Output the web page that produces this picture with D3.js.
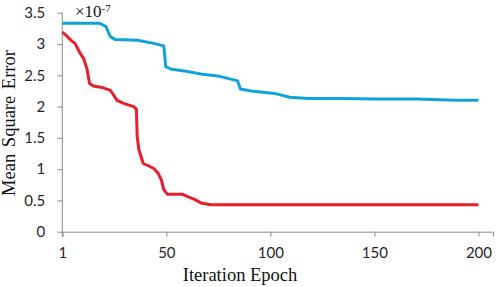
<!DOCTYPE html>
<html>
<head>
<meta charset="utf-8">
<script src="https://cdn.jsdelivr.net/npm/d3@7"></script>
<style>
  body { margin: 0; background: #fff; }
  svg { display: block; }
</style>
</head>
<body>
<svg id="chart" width="498" height="287"></svg>
<script>
// データ (値は ×10^-7)
const blueEpoch = [0, 18, 21, 23, 25.5, 36, 44, 48.8, 49.7, 52, 58.5, 66.6, 74.7, 84.3, 85.6, 90.8, 102, 109.3, 118.2, 132.7, 152, 170.5, 189, 200];
const blueMse   = [3.33, 3.33, 3.28, 3.12, 3.07, 3.06, 3.01, 2.97, 2.64, 2.60, 2.57, 2.52, 2.49, 2.41, 2.28, 2.25, 2.21, 2.15, 2.13, 2.13, 2.12, 2.12, 2.10, 2.10];

const redEpoch = [0, 2.1, 4.5, 6.1, 8.6, 10.2, 11.8, 13.1, 15, 19.8, 23.1, 24.7, 26.3, 29.5, 34.3, 35.6, 36, 36.8, 38.9, 41.6, 44, 45.9, 47.6, 48.8, 50.5, 57.7, 60.2, 63.3, 66.6, 71.4, 200];
const redMse   = [3.19, 3.13, 3.05, 3.01, 2.85, 2.77, 2.61, 2.37, 2.33, 2.30, 2.26, 2.18, 2.10, 2.05, 2.00, 1.96, 1.52, 1.31, 1.09, 1.05, 1.01, 0.94, 0.83, 0.67, 0.60, 0.60, 0.56, 0.52, 0.46, 0.43, 0.43];

const xTickValues = [0, 50, 100, 150, 200];
const xTickLabels = ["1", "50", "100", "150", "200"];
const yTickValues = [0, 0.5, 1, 1.5, 2, 2.5, 3, 3.5];

const svg = d3.select("#chart");
const margin = { top: 12.7, right: 5, bottom: 55.3, left: 62.3 };
const width = +svg.attr("width"), height = +svg.attr("height");

const xScale = d3.scaleLinear().domain([0, 207]).range([margin.left, width - margin.right]);
const yScale = d3.scaleLinear().domain([0, 3.5]).range([height - margin.bottom, margin.top]);

// 軸
const xAxis = svg.append("g")
    .attr("transform", `translate(0,${yScale(0)})`)
    .call(d3.axisBottom(xScale).tickValues(xTickValues)
        .tickFormat((d, i) => xTickLabels[i]).tickSizeOuter(0).tickSize(5).tickPadding(11));

const yAxis = svg.append("g")
    .attr("transform", `translate(${xScale(0)},0)`)
    .call(d3.axisLeft(yScale).tickValues(yTickValues)
        .tickFormat(d3.format("")).tickSizeOuter(0).tickSize(5).tickPadding(12));

[xAxis, yAxis].forEach(a => {
    a.select(".domain").attr("stroke", "#8c8c8c");
    a.selectAll(".tick line").attr("stroke", "#8c8c8c");
    a.selectAll(".tick text")
        .attr("fill", "#262626")
        .style("font-family", "Lato, 'Open Sans', sans-serif")
        .style("font-size", "15px");
});
// y軸は下に少しはみ出す
yAxis.select(".domain").attr("d", `M0,${yScale(3.5)}V${yScale(0) + 5}`);

// 折れ線
const line = d3.line().x(d => xScale(d[0])).y(d => yScale(d[1]));

svg.append("path")
    .datum(d3.zip(blueEpoch, blueMse))
    .attr("fill", "none")
    .attr("stroke", "#0fa3dc")
    .attr("stroke-width", 3)
    .attr("stroke-linejoin", "round")
    .attr("d", line);

svg.append("path")
    .datum(d3.zip(redEpoch, redMse))
    .attr("fill", "none")
    .attr("stroke", "#ea1d2c")
    .attr("stroke-width", 3)
    .attr("stroke-linejoin", "round")
    .attr("d", line);

// ラベル
const serif = "'Liberation Serif', 'Times New Roman', serif";

svg.append("text")
    .attr("x", 240)
    .attr("y", 281)
    .attr("text-anchor", "middle")
    .style("font-family", serif)
    .style("font-size", "18.5px")
    .attr("fill", "#111")
    .text("Iteration Epoch");

svg.append("text")
    .attr("transform", "rotate(-90)")
    .attr("x", -123)
    .attr("y", 15)
    .attr("text-anchor", "middle")
    .style("font-family", serif)
    .style("font-size", "18.5px")
    .style("word-spacing", "2px")
    .attr("fill", "#111")
    .text("Mean Square Error");

const mult = svg.append("text")
    .attr("x", 75)
    .attr("y", 17)
    .style("font-family", serif)
    .style("font-size", "17px")
    .attr("fill", "#111");
mult.append("tspan").text("×10");
mult.append("tspan").attr("dy", -5.5).style("font-size", "11px").text("-7");
</script>
</body>
</html>
